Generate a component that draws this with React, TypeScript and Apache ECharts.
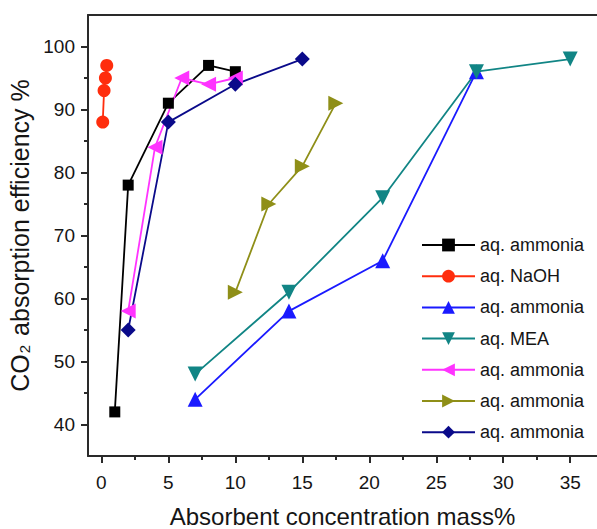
import React, { useEffect, useRef } from "react";
import * as echarts from "echarts";

// ---- data ----
const blackX = [1, 2, 5, 8, 10];
const blackY = [42, 78, 91, 97, 96];
const naohX = [0.1, 0.2, 0.3, 0.4];
const naohY = [88, 93, 95, 97];
const blueX = [7, 14, 21, 28];
const blueY = [44, 58, 66, 96];
const meaX = [7, 14, 21, 28, 35];
const meaY = [48, 61, 76, 96, 98];
const magentaX = [2, 4, 6, 8, 10];
const magentaY = [58, 84, 95, 94, 95];
const oliveX = [10, 12.5, 15, 17.5];
const oliveY = [61, 75, 81, 91];
const navyX = [2, 5, 10, 15];
const navyY = [55, 88, 94, 98];

const legendLabels = [
  "aq. ammonia",
  "aq. NaOH",
  "aq. ammonia",
  "aq. MEA",
  "aq. ammonia",
  "aq. ammonia",
  "aq. ammonia",
];
const seriesIds = ["s1", "s2", "s3", "s4", "s5", "s6", "s7"];

const xMajorTicks = [0, 5, 10, 15, 20, 25, 30, 35];
const xMinorTicks = [2.5, 7.5, 12.5, 17.5, 22.5, 27.5, 32.5];
const yMajorTicks = [40, 50, 60, 70, 80, 90, 100];
const yMinorTicks = [45, 55, 65, 75, 85, 95];

const X_MIN = -1;
const X_MAX = 37;
const Y_MIN = 35;
const Y_MAX = 105;

const FONT = "Liberation Sans, Arial, sans-serif";
const TEXT = "#151515";
const AXIS = "#2a2a2a";

function mk(
  idx: number,
  xs: number[],
  ys: number[],
  color: string,
  symbol: string,
  size: number,
  rotate: number
) {
  return {
    type: "line",
    name: seriesIds[idx],
    data: xs.map((x, i) => [x, ys[i]]),
    xAxisIndex: 0,
    yAxisIndex: 0,
    symbol,
    symbolSize: size,
    symbolRotate: rotate,
    showSymbol: true,
    showAllSymbol: true,
    itemStyle: { color, opacity: 1 },
    lineStyle: { color, width: 1.8 },
    emphasis: { disabled: true },
  };
}

export default function App() {
  const ref = useRef<HTMLDivElement>(null);
  useEffect(() => {
    const chart = echarts.init(ref.current!, null, { renderer: "svg" });
    const labelMap: Record<string, string> = {};
    seriesIds.forEach((id, i) => (labelMap[id] = legendLabels[i]));
    const baseAxisLine = { show: true, lineStyle: { color: AXIS, width: 2 } };
    chart.setOption({
      animation: false,
      backgroundColor: "#ffffff",
      textStyle: { fontFamily: FONT },
      grid: {
        left: 88,
        right: 0,
        top: 15,
        bottom: 73,
        containLabel: false,
        outerBoundsMode: "none",
      },
      legend: {
        orient: "vertical",
        left: 416,
        top: 231,
        itemWidth: 53,
        itemHeight: 16,
        itemGap: 13.2,
        data: seriesIds,
        formatter: (n: string) => labelMap[n],
        textStyle: {
          fontFamily: FONT,
          fontSize: 18,
          color: TEXT,
          lineHeight: 18,
        },
        selectedMode: false,
      },
      xAxis: [
        {
          type: "value",
          position: "bottom",
          min: X_MIN,
          max: X_MAX,
          axisLine: { ...baseAxisLine, onZero: false },
          axisTick: {
            show: true,
            length: 7,
            customValues: xMajorTicks,
            lineStyle: { color: AXIS, width: 2 },
          },
          axisLabel: {
            customValues: xMajorTicks,
            fontSize: 19,
            color: TEXT,
            fontFamily: FONT,
            margin: 17,
          },
          splitLine: { show: false },
          name: "Absorbent concentration mass%",
          nameLocation: "middle",
          nameGap: 48,
          nameTextStyle: { fontSize: 24, color: TEXT, fontFamily: FONT },
        },
        {
          type: "value",
          position: "bottom",
          min: X_MIN,
          max: X_MAX,
          axisLine: { show: false, onZero: false },
          axisTick: {
            show: true,
            length: 4,
            customValues: xMinorTicks,
            lineStyle: { color: AXIS, width: 2 },
          },
          axisLabel: { show: false },
          splitLine: { show: false },
        },
        {
          type: "value",
          position: "top",
          min: X_MIN,
          max: X_MAX,
          axisLine: { ...baseAxisLine, onZero: false },
          axisTick: { show: false },
          axisLabel: { show: false },
          splitLine: { show: false },
        },
      ],
      yAxis: [
        {
          type: "value",
          position: "left",
          min: Y_MIN,
          max: Y_MAX,
          axisLine: { ...baseAxisLine, onZero: false },
          axisTick: {
            show: true,
            length: 7,
            customValues: yMajorTicks,
            lineStyle: { color: AXIS, width: 2 },
          },
          axisLabel: {
            customValues: yMajorTicks,
            fontSize: 19,
            color: TEXT,
            fontFamily: FONT,
            margin: 13,
          },
          splitLine: { show: false },
          name: "{a|CO}{s|2}{a| absorption efficiency %}",
          nameLocation: "middle",
          nameGap: 42,
          nameTextStyle: {
            fontSize: 25,
            color: TEXT,
            fontFamily: FONT,
            rich: {
              a: { fontSize: 25, color: TEXT, fontFamily: FONT },
              s: {
                fontSize: 15,
                color: TEXT,
                fontFamily: FONT,
                verticalAlign: "bottom",
                padding: [0, 2, 0, 1],
              },
            },
          },
        },
        {
          type: "value",
          position: "left",
          min: Y_MIN,
          max: Y_MAX,
          axisLine: { show: false, onZero: false },
          axisTick: {
            show: true,
            length: 4,
            customValues: yMinorTicks,
            lineStyle: { color: AXIS, width: 2 },
          },
          axisLabel: { show: false },
          splitLine: { show: false },
        },
      ],
      series: [
        mk(0, blackX, blackY, "#000000", "rect", 11, 0),
        mk(1, naohX, naohY, "#ff2d0d", "circle", 13, 0),
        mk(2, blueX, blueY, "#1a1aff", "triangle", 15, 0),
        mk(3, meaX, meaY, "#118585", "triangle", 15, 180),
        mk(4, magentaX, magentaY, "#ff33ff", "triangle", 15, 90),
        mk(5, oliveX, oliveY, "#8f8f18", "triangle", 15, -90),
        mk(6, navyX, navyY, "#0a0a8a", "diamond", 15, 0),
      ],
    });
    return () => chart.dispose();
  }, []);
  return (
    <div
      ref={ref}
      style={{ position: "absolute", left: 0, top: 0, width: 597, height: 529 }}
    />
  );
}
